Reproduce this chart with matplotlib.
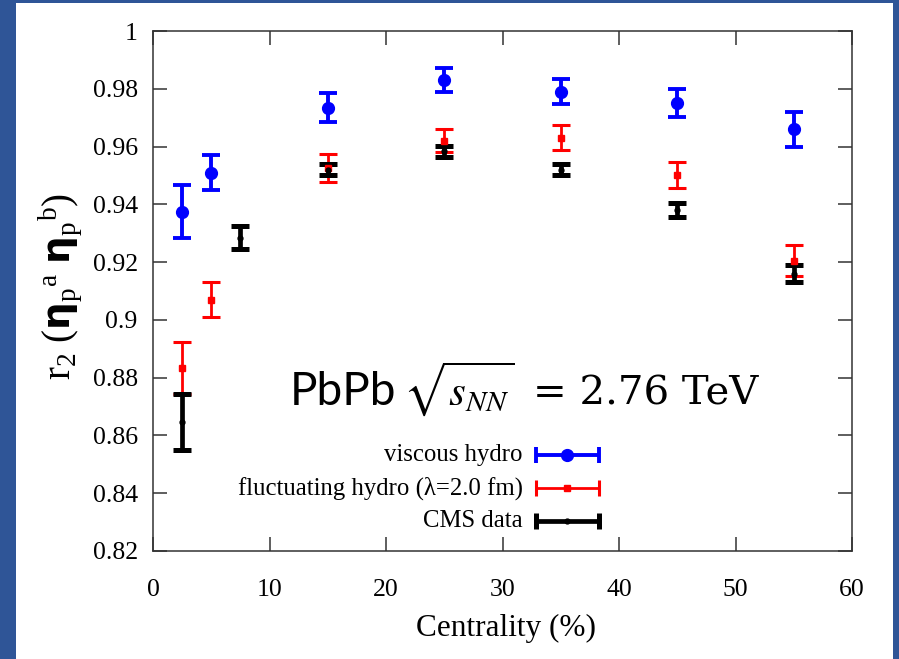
import matplotlib
matplotlib.use("Agg")
import matplotlib.pyplot as plt
from matplotlib.patches import Rectangle
from matplotlib.ticker import FuncFormatter, MultipleLocator

# r2 factorization ratio vs centrality
x_visc = [2.5, 5, 15, 25, 35, 45, 55]
r2_visc = [0.9375, 0.951, 0.9735, 0.983, 0.979, 0.975, 0.966]
err_visc = [0.0092, 0.006, 0.005, 0.0042, 0.0044, 0.0048, 0.006]

x_fluc = [2.5, 5, 15, 25, 35, 45, 55]
r2_fluc = [0.8835, 0.907, 0.9525, 0.962, 0.963, 0.950, 0.9205]
err_fluc = [0.009, 0.006, 0.0048, 0.004, 0.0043, 0.0045, 0.0054]

x_cms = [2.5, 7.5, 15, 25, 35, 45, 55]
r2_cms = [0.8645, 0.9285, 0.952, 0.9583, 0.952, 0.938, 0.916]
err_cms = [0.0097, 0.0039, 0.0019, 0.0018, 0.0019, 0.0024, 0.003]

labels = ["viscous hydro", "fluctuating hydro (\u03bb=2.0 fm)", "CMS data"]

plt.rcParams["font.family"] = ["Liberation Serif", "DejaVu Serif"]
plt.rcParams["mathtext.fontset"] = "custom"
plt.rcParams["mathtext.rm"] = "Liberation Serif"
plt.rcParams["mathtext.it"] = "Liberation Serif:italic"
plt.rcParams["mathtext.bf"] = "DejaVu Sans:bold"

W, H = 899, 659
fig = plt.figure(figsize=(W / 100, H / 100), dpi=100)
fig.patch.set_facecolor("#2f5597")
fig.add_artist(Rectangle((16 / W, 0), (893 - 16) / W, 1 - 3 / H,
                         transform=fig.transFigure, facecolor="white",
                         edgecolor="none", zorder=0))

ax = fig.add_axes([153 / W, 1 - 551 / H, (852 - 153) / W, (551 - 31) / H])
ax.set_facecolor("white")

styles = [
    dict(color="#0000ff", lw=2.8, ms=8.5, marker="o", capthick=2.8),
    dict(color="#ff0000", lw=2.0, ms=5.0, marker="s", capthick=2.2),
    dict(color="#000000", lw=3.4, ms=3.5, marker="o", capthick=3.6),
]
series = [(x_visc, r2_visc, err_visc), (x_fluc, r2_fluc, err_fluc),
          (x_cms, r2_cms, err_cms)]

for (xs, ys, es), st in zip(series, styles):
    ax.errorbar(xs, ys, yerr=es, fmt=st["marker"], color=st["color"],
                ms=st["ms"], elinewidth=st["lw"], capsize=6.5,
                capthick=st["capthick"], mec=st["color"], zorder=3)

ax.set_xlim(0, 60)
ax.set_ylim(0.82, 1.0)
ax.xaxis.set_major_locator(MultipleLocator(10))
ax.yaxis.set_major_locator(MultipleLocator(0.02))
ax.yaxis.set_major_formatter(FuncFormatter(lambda v, p: "%g" % round(v, 4)))
ax.tick_params(direction="in", length=10, width=1.1, color="#333333",
               top=True, right=True, labelsize=18.5)
ax.tick_params(axis="x", pad=20)
ax.tick_params(axis="y", pad=11)
for sp in ax.spines.values():
    sp.set_color("#333333")
    sp.set_linewidth(1.1)

# legend rows drawn as horizontal error-bar samples
rows_y = [0.1846, 0.121, 0.0577]
for lab, yy, st in zip(labels, rows_y, styles):
    ax.text(0.529, yy, lab, transform=ax.transAxes, ha="right",
            va="center", fontsize=17.8)
    ax.plot([0.548, 0.638], [yy, yy], transform=ax.transAxes,
            color=st["color"], lw=st["lw"], solid_capstyle="butt")
    ax.plot([0.548, 0.638], [yy, yy], transform=ax.transAxes, ls="none",
            marker="|", ms=12, mew=st["capthick"], color=st["color"])
    ax.plot([0.592], [yy], transform=ax.transAxes, ls="none",
            marker=st["marker"], ms=st["ms"], color=st["color"])

# energy annotation
ax.text(0.196, 0.281, "PbPb", transform=ax.transAxes, ha="left",
        va="baseline", fontsize=33, family=["Lato", "DejaVu Sans"])
ax.text(0.358, 0.281, r"$\sqrt{s_{NN}}$", transform=ax.transAxes,
        ha="left", va="baseline", fontsize=31, math_fontfamily="stix")
ax.text(0.543, 0.281, "= 2.76 TeV", transform=ax.transAxes, ha="left",
        va="baseline", fontsize=29, family=["DejaVu Serif"])

fig.text(59 / W, 1 - 287 / H,
         r"r$_2$ ($\mathbf{\eta}_{\rm p}{}^{\rm a}$ $\mathbf{\eta}_{\rm p}{}^{\rm b}$)",
         rotation=90, ha="center", va="center", fontsize=28)
fig.text(506 / W, 1 - 628 / H, "Centrality (%)", ha="center", va="center",
         fontsize=22.5)

fig.savefig("out.png", dpi=100, facecolor=fig.get_facecolor())
